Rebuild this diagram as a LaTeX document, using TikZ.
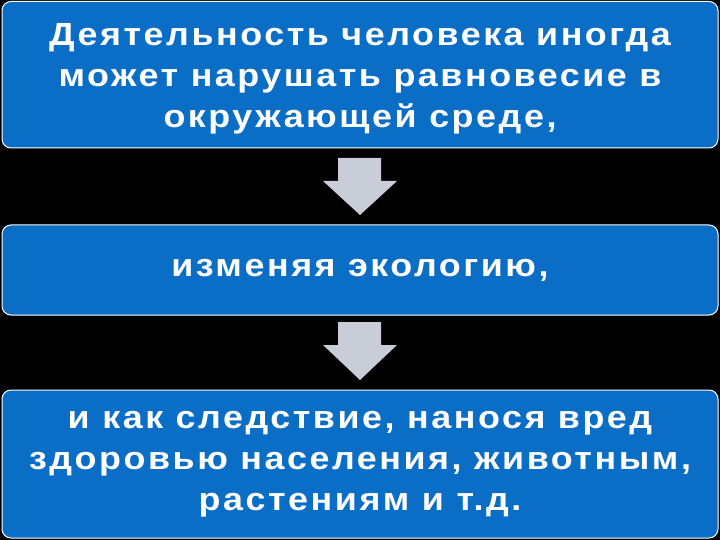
\documentclass[tikz,border=0pt]{standalone}
\usepackage{fontspec}
\setmainfont{Liberation Sans}
\newfontfamily\boxfont[LetterSpace=8,FakeStretch=1.12]{Liberation Sans}
\begin{document}
\begin{tikzpicture}[x=1pt,y=-1pt,
  box/.style={draw=white,line width=1pt,fill=boxblue,rounded corners=9pt},
  txt/.style={text=white,font=\boxfont\bfseries\fontsize{32}{41}\selectfont,align=center},
  arr/.style={fill=arrgrey,draw=none}]
\definecolor{boxblue}{HTML}{0A6DC6}
\definecolor{arrgrey}{HTML}{C9CDD8}
\fill[black] (0,0) rectangle (720,540);
\useasboundingbox (0,0) rectangle (720,540);
\draw[box] (2,1.5) rectangle (718,148);
\draw[box] (2,225) rectangle (718,315);
\draw[box] (2,390) rectangle (718,538);
\node[txt] (t1) at (360,79) {Деятельность человека иногда\\может нарушать равновесие в\\окружающей среде,};
\node[txt] (t2) at (360,270) {изменяя экологию,};
\node[txt] (t3) at (360,464) {и как следствие, нанося вред\\здоровью населения, животным,\\растениям и т.д.};
\fill[arr] (338,158) -- (381,158) -- (381,181) -- (397,181) -- (360,215) -- (323,181) -- (338,181) -- cycle;
\fill[arr] (338,322) -- (381,322) -- (381,345) -- (397,345) -- (360,380) -- (323,345) -- (338,345) -- cycle;
\end{tikzpicture}
\end{document}
